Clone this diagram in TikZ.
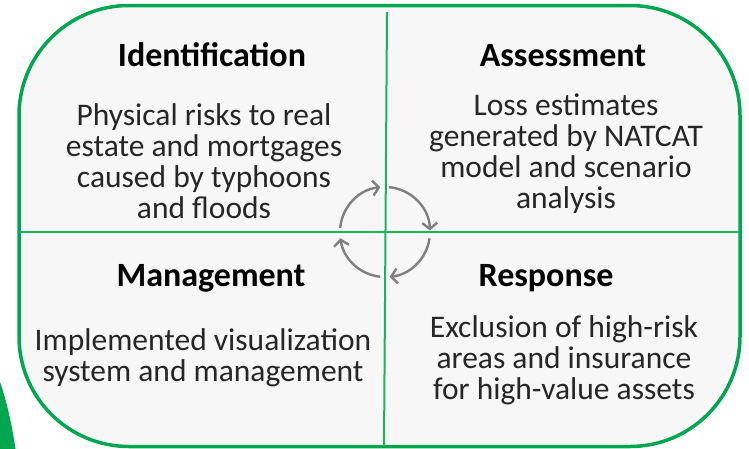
\documentclass[tikz,border=0pt]{standalone}
\usepackage{fontspec}
\setmainfont{Carlito}
\usetikzlibrary{arrows.meta}
\definecolor{frameGreen}{HTML}{00A650}
\definecolor{lineGreen}{HTML}{1DB35C}
\definecolor{boxGray}{HTML}{F7F7F7}
\definecolor{cycleGray}{HTML}{808080}
\definecolor{bodyText}{HTML}{262626}

\begin{document}
\begin{tikzpicture}[x=1pt,y=1pt,
  quadtitle/.style={font=\fontsize{34}{40}\selectfont\bfseries, anchor=base, inner sep=0pt},
  quadbody/.style={font=\fontsize{31.5}{31}\selectfont, text=bodyText, align=center, anchor=base, inner sep=0pt},
  cyclearc/.style={cycleGray, line width=2.4pt, -{Straight Barb[length=6pt,width=15pt]}}]

\useasboundingbox (0,0) rectangle (749,-448);

% ---- frame and dividers ----
\fill[frameGreen] (0,-382) .. controls (7,-402) and (12,-425) .. (16,-452) -- (0,-452) -- cycle;
\draw[frameGreen, fill=boxGray, line width=3.5pt, rounded corners=110pt]
  (19,-5.5) rectangle (740,-446.5);
\draw[lineGreen, line width=2pt] (387,-12) -- (384,-446);
\draw[lineGreen, line width=2pt] (20,-232) -- (739,-232);

% ---- quadrants (body nodes sit on their last line) ----
\node[quadtitle] (identT) at (212,-66) {Identification};
\node[quadbody]  (identB) at (204,-218) {Physical risks to real\\estate and mortgages\\caused by typhoons\\and floods};

\node[quadtitle] (assessT) at (563,-66) {Assessment};
\node[quadbody]  (assessB) at (566,-208) {Loss estimates\\generated by NATCAT\\model and scenario\\analysis};

\node[quadtitle] (manageT) at (211,-286) {Management};
\node[quadbody]  (manageB) at (203,-381) {Implemented visualization\\system and management};

\node[quadtitle] (respT) at (546,-286) {Response};
\node[quadbody]  (respB) at (564,-399) {Exclusion of high-risk\\areas and insurance\\for high-value assets};

% ---- cycle in the centre ----
\coordinate (hub) at (385,-232);
\draw[cyclearc] ([shift={(175:45)}]hub) arc[start angle=175, end angle=96, radius=45];
\draw[cyclearc] ([shift={(85:45)}]hub) arc[start angle=85, end angle=2, radius=45];
\draw[cyclearc] ([shift={(-8:45)}]hub) arc[start angle=-8, end angle=-84, radius=45];
\draw[cyclearc] ([shift={(-96:45)}]hub) arc[start angle=-96, end angle=-172, radius=45];

\end{tikzpicture}
\end{document}
